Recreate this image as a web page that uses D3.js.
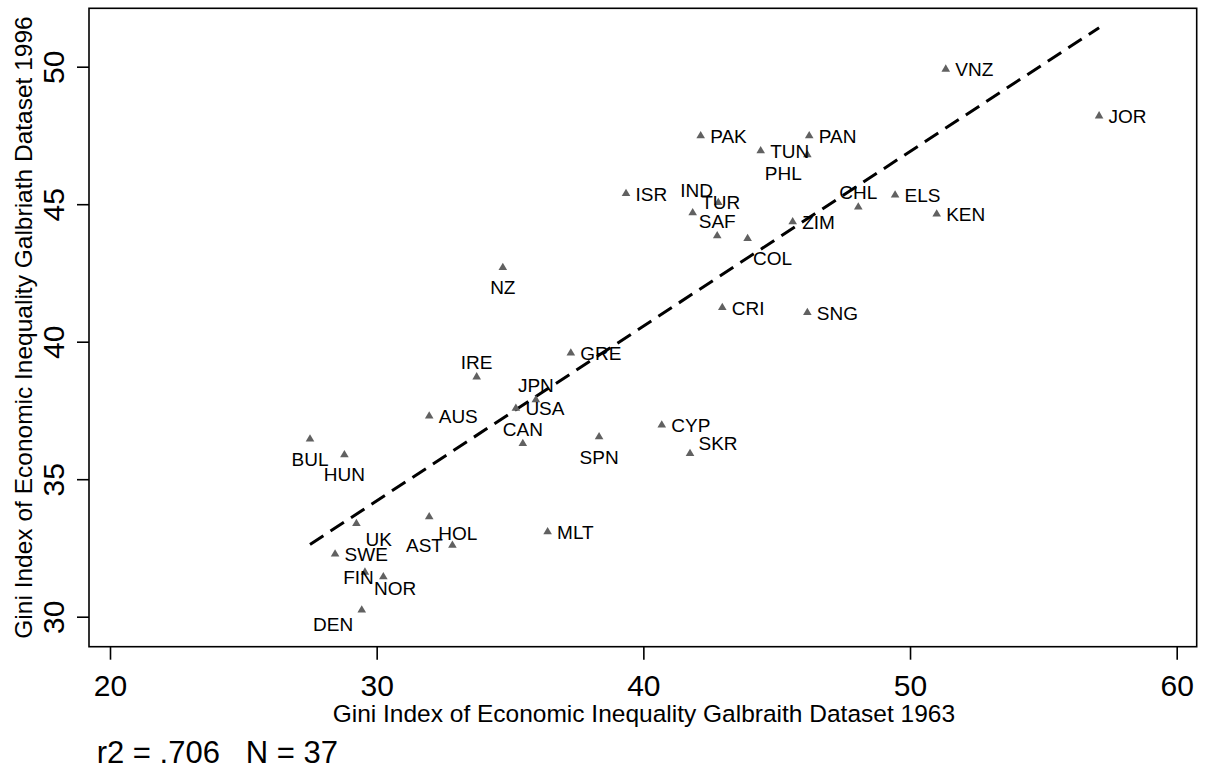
<!DOCTYPE html>
<html>
<head>
<meta charset="utf-8">
<script src="https://cdn.jsdelivr.net/npm/d3@7"></script>
<style>
  html, body { margin: 0; padding: 0; background: #fff; }
  svg { display: block; font-family: "Liberation Sans", Arial, Helvetica, sans-serif; }
</style>
</head>
<body>
<svg id="chart" width="1212" height="772"></svg>
<script>
// ---- data ----
const countries = ["VNZ","JOR","PAK","PAN","TUN","PHL","ISR","TUR","IND","SAF","COL","ZIM","CHL","ELS","KEN",
  "NZ","CRI","SNG","GRE","IRE","JPN","USA","AUS","CAN","SPN","CYP","SKR","BUL","HUN","UK","HOL","AST","MLT",
  "SWE","FIN","NOR","DEN"];
const gini1963 = [51.34,57.09,42.15,46.22,44.40,46.15,39.35,41.85,42.81,42.77,43.91,45.60,48.06,49.44,51.00,
  34.73,42.96,46.15,37.28,33.75,35.97,35.22,31.97,35.48,38.34,40.69,41.75,27.50,28.79,29.24,31.97,32.84,36.41,
  28.44,30.25,29.56,29.44];
const gini1996 = [49.94,48.24,47.52,47.52,46.97,46.83,45.42,44.72,45.09,43.88,43.78,44.39,44.93,45.36,44.67,
  42.73,41.27,41.09,39.62,38.75,37.92,37.61,37.33,36.33,36.57,37.00,35.96,36.49,35.92,33.42,33.66,32.63,33.12,
  32.31,31.48,31.65,30.27];
// marker-label clock position (Stata mlabvposition)
const labelClock = [3,3,3,3,3,7,3,2,11,12,5,3,12,3,3,
  6,3,3,3,12,12,3,3,12,6,3,2,6,6,4,4,9,3,
  3,9,4,8];
const xTicks = [20,30,40,50,60];
const yTicks = [30,35,40,45,50];
const xTitle = "Gini Index of Economic Inequality Galbraith Dataset 1963";
const yTitle = "Gini Index of Economic Inequality Galbriath Dataset 1996";
const note = "r2 = .706   N = 37";

// ---- layout ----
const svg = d3.select("#chart");
const L = 89, R = 1196.7, T = 8.3, B = 646.7;
const x = d3.scaleLinear().domain([20, 60]).range([110, 1176.7]);
const y = d3.scaleLinear().domain([30, 50]).range([616.7, 66.7]);

// frame
svg.append("rect").attr("x", L).attr("y", T).attr("width", R - L).attr("height", B - T)
  .attr("fill", "none").attr("stroke", "#000").attr("stroke-width", 1.6);

// x axis
const xAxis = svg.append("g").attr("transform", `translate(0,${B})`)
  .call(d3.axisBottom(x).tickValues(xTicks).tickSize(13).tickSizeOuter(0).tickPadding(0).tickFormat(d3.format("d")));
xAxis.select(".domain").remove();
xAxis.selectAll(".tick line").attr("stroke", "#000").attr("stroke-width", 1.6);
xAxis.selectAll(".tick text").attr("y", 49).attr("dy", null).attr("font-size", "30px")
  .attr("fill", "#000").attr("font-family", "Liberation Sans, Arial, sans-serif");

// y axis
const yAxis = svg.append("g").attr("transform", `translate(${L},0)`)
  .call(d3.axisLeft(y).tickValues(yTicks).tickSize(12).tickSizeOuter(0).tickFormat(d3.format("d")));
yAxis.select(".domain").remove();
yAxis.selectAll(".tick line").attr("stroke", "#000").attr("stroke-width", 1.6);
yAxis.selectAll(".tick text")
  .attr("x", null).attr("dy", null)
  .attr("transform", `translate(${63.5 - L},0) rotate(-90)`)
  .attr("text-anchor", "middle").attr("font-size", "30px").attr("fill", "#000")
  .attr("font-family", "Liberation Sans, Arial, sans-serif");

// titles
svg.append("text").attr("x", (L + R) / 2 + 1).attr("y", 721.7).attr("text-anchor", "middle")
  .attr("font-size", "24.5px").attr("fill", "#000").text(xTitle);
svg.append("text").attr("transform", `translate(31.7,${(T + B) / 2}) rotate(-90)`)
  .attr("text-anchor", "middle").attr("font-size", "24.5px").attr("fill", "#000").text(yTitle);
svg.append("text").attr("x", 96.7).attr("y", 763).attr("font-size", "31px").attr("fill", "#000")
  .attr("xml:space", "preserve").style("white-space", "pre").text(note);

// fitted line (OLS from data)
const mx = d3.mean(gini1963), my = d3.mean(gini1996);
let sxy = 0, sxx = 0;
gini1963.forEach((v, i) => { sxy += (v - mx) * (gini1996[i] - my); sxx += (v - mx) * (v - mx); });
const slope = sxy / sxx, icpt = my - slope * mx;
const [xmin, xmax] = d3.extent(gini1963);
svg.append("path")
  .attr("d", d3.line()([[x(xmin), y(icpt + slope * xmin)], [x(xmax), y(icpt + slope * xmax)]]))
  .attr("stroke", "#000").attr("stroke-width", 3).attr("stroke-dasharray", "16,8.5").attr("fill", "none");

// markers
const pts = countries.map((c, i) => ({ c, x: gini1963[i], y: gini1996[i], p: labelClock[i] }));
svg.append("g").selectAll("path").data(pts).join("path")
  .attr("transform", d => `translate(${x(d.x)},${y(d.y)})`)
  .attr("d", "M0,-4L4.3,3.3L-4.3,3.3Z")
  .attr("fill", "#616161");

// labels
const clockPos = {
  0: ["middle", 0, 6.5],
  2: ["start", 8.5, -3],
  3: ["start", 9.5, 8],
  4: ["start", 9, 23.5],
  5: ["start", 5.3, 27.3],
  6: ["middle", 0, 27.5],
  7: ["end", -5.6, 26],
  8: ["end", -8.5, 22],
  9: ["end", -9.5, 8],
  11: ["end", -5.3, -5],
  12: ["middle", 0, -7]
};
svg.append("g").selectAll("text").data(pts).join("text")
  .attr("x", d => x(d.x) + clockPos[d.p][1])
  .attr("y", d => y(d.y) + clockPos[d.p][2])
  .attr("text-anchor", d => clockPos[d.p][0])
  .attr("font-size", "19px").attr("fill", "#000")
  .text(d => d.c);
</script>
</body>
</html>
